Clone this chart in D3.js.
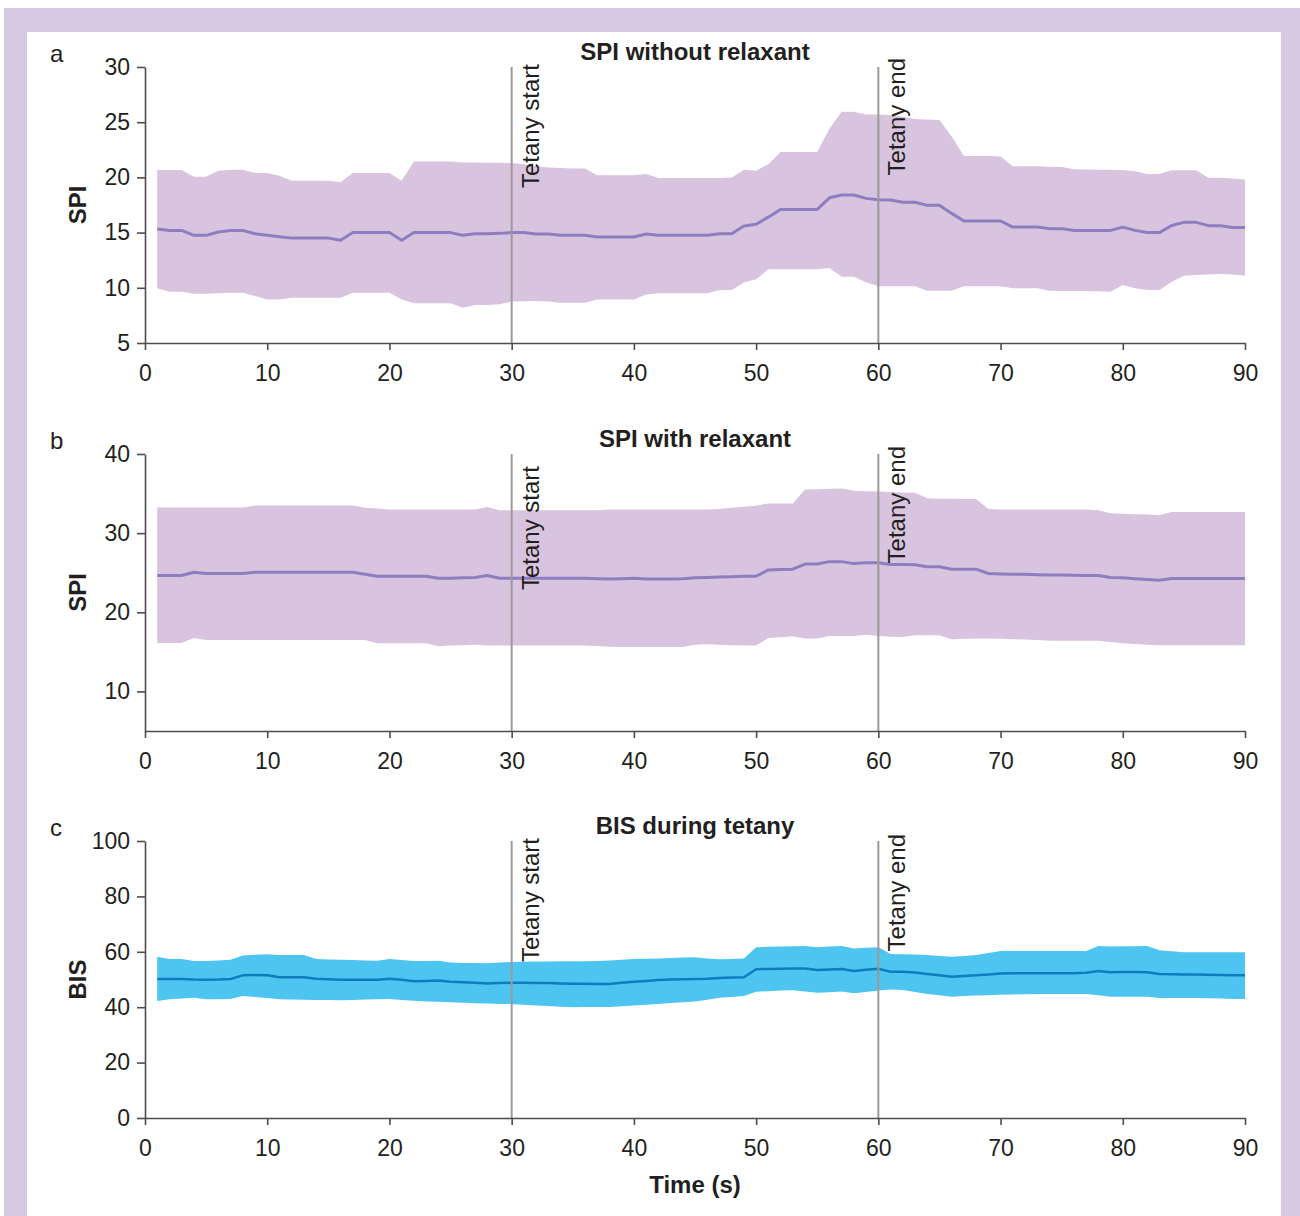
<!DOCTYPE html>
<html>
<head>
<meta charset="utf-8">
<script src="https://d3js.org/d3.v7.min.js"></script>
<style>
  body { margin: 0; background: #fff; }
  text { font-family: "Liberation Sans", Arial, sans-serif; fill: #231f20; }
</style>
</head>
<body>
<div id="my_chart"></div>
<script>
// time axis (seconds)
var seconds = d3.range(1, 91);
var timeTicks = [0, 10, 20, 30, 40, 50, 60, 70, 80, 90];
var tetanyTimes = [30, 60];
var tetanyLabels = ["Tetany start", "Tetany end"];
var panelLetters = ["a", "b", "c"];
var panelTitles = ["SPI without relaxant", "SPI with relaxant", "BIS during tetany"];
var yLabels = ["SPI", "SPI", "BIS"];
var yTicksA = [5, 10, 15, 20, 25, 30];
var yTicksB = [10, 20, 30, 40];
var yTicksC = [0, 20, 40, 60, 80, 100];

// a: SPI without relaxant
var aMean = [15.33, 15.2, 15.2, 14.75, 14.75, 15.05, 15.2, 15.2, 14.9, 14.75,
  14.62, 14.5, 14.5, 14.5, 14.5, 14.3, 15.0, 15.0, 15.0, 15.0,
  14.3, 15.0, 15.0, 15.0, 15.0, 14.75, 14.9, 14.9, 14.93, 15.0,
  15.0, 14.88, 14.88, 14.75, 14.75, 14.75, 14.6, 14.6, 14.6, 14.6,
  14.88, 14.75, 14.75, 14.75, 14.75, 14.75, 14.9, 14.9, 15.6, 15.75,
  16.4, 17.1, 17.1, 17.1, 17.1, 18.15, 18.4, 18.4, 18.1, 17.98,
  17.95, 17.75, 17.75, 17.47, 17.47, 16.74, 16.05, 16.05, 16.05, 16.05,
  15.5, 15.5, 15.5, 15.36, 15.36, 15.2, 15.2, 15.2, 15.2, 15.5,
  15.2, 15.0, 15.0, 15.65, 15.93, 15.93, 15.63, 15.63, 15.47, 15.47];
var aHigh = [20.67, 20.67, 20.67, 20.05, 20.05, 20.6, 20.7, 20.7, 20.4, 20.4,
  20.15, 19.7, 19.7, 19.7, 19.7, 19.55, 20.4, 20.4, 20.4, 20.4,
  19.7, 21.45, 21.45, 21.45, 21.45, 21.35, 21.35, 21.33, 21.33, 21.3,
  21.2, 21.0, 20.9, 20.85, 20.8, 20.8, 20.2, 20.2, 20.2, 20.2,
  20.3, 19.95, 19.95, 19.95, 19.95, 19.95, 19.95, 19.98, 20.7, 20.6,
  21.2, 22.3, 22.3, 22.3, 22.3, 24.4, 25.95, 25.95, 25.7, 25.7,
  25.65, 25.5, 25.3, 25.25, 25.2, 23.7, 21.94, 21.94, 21.94, 21.9,
  21.0, 21.0, 21.0, 20.97, 20.95, 20.73, 20.72, 20.7, 20.7, 20.67,
  20.55, 20.3, 20.3, 20.64, 20.65, 20.65, 19.97, 19.97, 19.9, 19.8];
var aLow = [9.95, 9.65, 9.65, 9.47, 9.47, 9.5, 9.55, 9.55, 9.25, 8.95,
  8.95, 9.1, 9.1, 9.1, 9.1, 9.1, 9.55, 9.55, 9.55, 9.55,
  8.95, 8.6, 8.6, 8.6, 8.6, 8.2, 8.45, 8.45, 8.5, 8.75,
  8.78, 8.8, 8.75, 8.65, 8.65, 8.65, 8.95, 8.95, 8.95, 8.95,
  9.4, 9.5, 9.5, 9.5, 9.5, 9.5, 9.8, 9.8, 10.47, 10.77,
  11.67, 11.67, 11.67, 11.67, 11.67, 11.8, 11.0, 11.0, 10.5, 10.15,
  10.15, 10.15, 10.15, 9.73, 9.73, 9.73, 10.15, 10.15, 10.15, 10.15,
  9.95, 9.95, 9.95, 9.73, 9.72, 9.7, 9.7, 9.68, 9.65, 10.25,
  9.95, 9.8, 9.8, 10.55, 11.1, 11.15, 11.2, 11.25, 11.2, 11.1];

// b: SPI with relaxant
var bMean = [24.65, 24.65, 24.65, 25.05, 24.9, 24.9, 24.9, 24.9, 25.05, 25.05,
  25.05, 25.05, 25.05, 25.05, 25.05, 25.05, 25.05, 24.8, 24.56, 24.56,
  24.56, 24.56, 24.56, 24.3, 24.3, 24.35, 24.4, 24.65, 24.3, 24.3,
  24.3, 24.3, 24.3, 24.3, 24.3, 24.3, 24.25, 24.2, 24.25, 24.3,
  24.2, 24.2, 24.2, 24.25, 24.35, 24.4, 24.45, 24.5, 24.55, 24.55,
  25.35, 25.4, 25.45, 26.1, 26.1, 26.4, 26.4, 26.15, 26.25, 26.25,
  26.05, 26.05, 26.0, 25.75, 25.75, 25.45, 25.45, 25.45, 24.9, 24.85,
  24.8, 24.8, 24.75, 24.7, 24.7, 24.68, 24.65, 24.64, 24.4, 24.35,
  24.25, 24.15, 24.05, 24.26, 24.26, 24.26, 24.26, 24.26, 24.26, 24.26];
var bHigh = [33.25, 33.25, 33.25, 33.25, 33.25, 33.25, 33.25, 33.25, 33.5, 33.5,
  33.5, 33.5, 33.5, 33.5, 33.5, 33.5, 33.5, 33.2, 33.1, 33.0,
  33.0, 33.0, 33.0, 33.0, 33.0, 33.0, 33.0, 33.3, 32.9, 32.9,
  32.9, 32.9, 32.9, 32.9, 32.9, 32.9, 32.9, 33.0, 33.0, 33.0,
  33.0, 33.0, 33.0, 33.0, 33.0, 33.0, 33.05, 33.2, 33.35, 33.46,
  33.76, 33.76, 33.76, 35.5, 35.55, 35.6, 35.65, 35.35, 35.3, 35.27,
  35.2, 35.15, 35.1, 34.4, 34.35, 34.35, 34.3, 34.3, 33.04, 33.0,
  33.0, 33.0, 33.0, 33.0, 33.0, 33.0, 33.0, 32.9, 32.5, 32.45,
  32.4, 32.35, 32.26, 32.68, 32.68, 32.68, 32.68, 32.68, 32.68, 32.68];
var bLow = [16.12, 16.12, 16.12, 16.75, 16.5, 16.5, 16.5, 16.5, 16.5, 16.5,
  16.5, 16.5, 16.5, 16.5, 16.5, 16.5, 16.5, 16.5, 16.1, 16.1,
  16.1, 16.1, 16.1, 15.7, 15.8, 15.85, 15.9, 15.8, 15.8, 15.8,
  15.8, 15.8, 15.8, 15.8, 15.8, 15.8, 15.75, 15.65, 15.6, 15.6,
  15.6, 15.6, 15.6, 15.6, 15.9, 15.95, 15.9, 15.85, 15.8, 15.8,
  16.75, 16.85, 16.96, 16.7, 16.7, 17.0, 17.0, 17.0, 17.15, 17.0,
  16.9, 16.87, 17.1, 17.1, 17.1, 16.6, 16.65, 16.7, 16.7, 16.65,
  16.6, 16.55, 16.5, 16.4, 16.4, 16.4, 16.4, 16.4, 16.24, 16.1,
  16.0, 15.9, 15.85, 15.85, 15.85, 15.85, 15.85, 15.85, 15.85, 15.85];

// c: BIS during tetany
var cMean = [50.2, 50.2, 50.2, 50.0, 49.9, 50.0, 50.2, 51.5, 51.6, 51.5,
  50.8, 50.8, 50.8, 50.3, 50.1, 49.9, 49.9, 49.9, 49.9, 50.3,
  49.9, 49.4, 49.5, 49.6, 49.2, 49.0, 48.8, 48.6, 48.7, 48.8,
  48.8, 48.7, 48.7, 48.6, 48.5, 48.5, 48.4, 48.4, 48.8, 49.2,
  49.5, 49.8, 50.0, 50.1, 50.2, 50.3, 50.5, 50.7, 50.8, 53.7,
  53.8, 53.9, 54.0, 54.0, 53.4, 53.6, 53.8, 53.1, 53.5, 53.9,
  52.8, 52.8, 52.5, 52.0, 51.5, 51.0, 51.3, 51.5, 51.8, 52.2,
  52.3, 52.3, 52.3, 52.3, 52.3, 52.3, 52.4, 53.1, 52.6, 52.7,
  52.7, 52.6, 52.0, 51.9, 51.8, 51.8, 51.7, 51.6, 51.5, 51.5];
var cHigh = [58.2, 57.4, 57.4, 56.7, 56.7, 56.9, 57.1, 58.7, 58.9, 59.1,
  58.8, 58.8, 58.8, 57.4, 57.2, 57.1, 57.0, 56.9, 56.8, 57.4,
  57.0, 56.7, 56.7, 56.8, 56.1, 56.0, 56.0, 55.9, 56.1, 56.3,
  56.4, 56.5, 56.5, 56.6, 56.6, 56.6, 56.7, 56.9, 57.1, 57.4,
  57.5, 57.6, 57.8, 57.9, 58.0, 57.6, 57.3, 57.4, 57.6, 61.6,
  61.8, 61.9, 62.0, 62.1, 61.6, 61.9, 62.1, 61.2, 61.5, 61.6,
  59.2, 59.1, 59.0, 58.8, 58.5, 58.2, 58.5, 58.8, 59.6, 60.3,
  60.3, 60.3, 60.3, 60.3, 60.3, 60.3, 60.3, 62.1, 61.9, 62.0,
  62.0, 62.1, 60.6, 60.2, 59.8, 59.8, 59.8, 59.8, 59.8, 59.8];
var cLow = [42.2, 42.9, 43.1, 43.4, 42.9, 42.9, 43.0, 44.0, 43.7, 43.3,
  42.9, 42.8, 42.7, 42.6, 42.6, 42.5, 42.6, 42.8, 42.9, 43.0,
  42.6, 42.3, 42.1, 42.0, 41.8, 41.6, 41.4, 41.3, 41.2, 41.1,
  40.9, 40.6, 40.4, 40.2, 40.0, 40.1, 40.1, 40.1, 40.3, 40.6,
  40.9, 41.2, 41.5, 41.8, 42.1, 42.7, 43.4, 43.7, 44.0, 45.6,
  45.8, 46.0, 46.1, 45.7, 45.2, 45.4, 45.7, 45.0, 45.5, 46.0,
  46.4, 46.2, 45.5, 44.8, 44.3, 43.8, 44.0, 44.2, 44.3, 44.5,
  44.6, 44.7, 44.8, 44.8, 44.8, 44.8, 44.8, 44.3, 43.8, 43.8,
  43.8, 43.8, 43.3, 43.3, 43.3, 43.3, 43.2, 43.1, 43.0, 43.0];

// page size
var width = 1300, height = 1216;

var svg = d3.select("#my_chart")
  .append("svg")
  .attr("width", width)
  .attr("height", height);

// purple frame with white inner box
svg.append("rect")
  .attr("x", 4).attr("y", 8)
  .attr("width", 1296).attr("height", height - 8)
  .attr("fill", "#d8c9e3");
svg.append("rect")
  .attr("x", 27).attr("y", 32)
  .attr("width", 1254).attr("height", height - 32)
  .attr("fill", "#ffffff");

// shared x scale
var x = d3.scaleLinear().domain([0, 90]).range([145, 1245]);

// panel layout
var panels = [
  { top: 67, bottom: 343, domain: [5, 30], ticks: yTicksA, mean: aMean, high: aHigh, low: aLow,
    band: "#d8c4df", line: "#8d7ec2", lineW: 3, labelShift: [3, 9] },
  { top: 454, bottom: 731, domain: [5, 40], ticks: yTicksB, mean: bMean, high: bHigh, low: bLow,
    band: "#d8c4df", line: "#8d7ec2", lineW: 3, labelShift: [-12, 8] },
  { top: 841, bottom: 1118, domain: [0, 100], ticks: yTicksC, mean: cMean, high: cHigh, low: cLow,
    band: "#4ec5f0", line: "#0f7dbd", lineW: 2.5, labelShift: [3, 7] }
];

panels.forEach(function (p, i) {
  var y = d3.scaleLinear().domain(p.domain).range([p.bottom, p.top]);

  var rows = seconds.map(function (t, k) {
    return { t: t, mean: p.mean[k], high: p.high[k], low: p.low[k] };
  });

  // shaded band
  var area = d3.area()
    .x(function (d) { return x(d.t); })
    .y0(function (d) { return y(d.low); })
    .y1(function (d) { return y(d.high); });
  svg.append("path")
    .datum(rows)
    .attr("d", area)
    .attr("fill", p.band);

  // mean line
  var line = d3.line()
    .x(function (d) { return x(d.t); })
    .y(function (d) { return y(d.mean); });
  svg.append("path")
    .datum(rows)
    .attr("d", line)
    .attr("fill", "none")
    .attr("stroke", p.line)
    .attr("stroke-width", p.lineW)
    .attr("stroke-linejoin", "round");

  // tetany markers
  tetanyTimes.forEach(function (tt, j) {
    svg.append("line")
      .attr("x1", x(tt)).attr("x2", x(tt))
      .attr("y1", p.top).attr("y2", p.bottom)
      .attr("stroke", "#9a9a9a")
      .attr("stroke-width", 2);
    svg.append("text")
      .attr("transform", "translate(" + (x(tt) + 27) + "," + (p.top - p.labelShift[j]) + ") rotate(-90)")
      .style("text-anchor", "end")
      .style("font-size", "24px")
      .text(tetanyLabels[j]);
  });

  // Y axis
  var yAxis = svg.append("g")
    .attr("transform", "translate(145,0)")
    .call(d3.axisLeft(y).tickValues(p.ticks).tickSize(8).tickSizeOuter(0).tickPadding(7));
  yAxis.selectAll("text").style("font-size", "23px").attr("fill", "#231f20");

  // X axis
  var xAxis = svg.append("g")
    .attr("transform", "translate(0," + p.bottom + ")")
    .call(d3.axisBottom(x).tickValues(timeTicks).tickSize(7).tickSizeOuter(0).tickPadding(15));
  xAxis.selectAll("text").style("font-size", "23px").attr("fill", "#231f20");

  svg.selectAll(".domain, .tick line")
    .attr("stroke", "#4d4d4d")
    .attr("stroke-width", 1.6);

  // Y axis label
  svg.append("text")
    .attr("transform", "translate(86," + ((p.top + p.bottom) / 2) + ") rotate(-90)")
    .style("text-anchor", "middle")
    .style("font-size", "24px")
    .style("font-weight", "bold")
    .text(yLabels[i]);

  // title and panel letter
  svg.append("text")
    .attr("x", 695).attr("y", p.top - 7)
    .style("text-anchor", "middle")
    .style("font-size", "24px")
    .style("font-weight", "bold")
    .text(panelTitles[i]);
  svg.append("text")
    .attr("x", 50).attr("y", p.top - 5)
    .style("font-size", "24px")
    .text(panelLetters[i]);
});

// X axis label
svg.append("text")
  .attr("x", 695).attr("y", 1193)
  .style("text-anchor", "middle")
  .style("font-size", "24px")
  .style("font-weight", "bold")
  .text("Time (s)");
</script>
</body>
</html>
